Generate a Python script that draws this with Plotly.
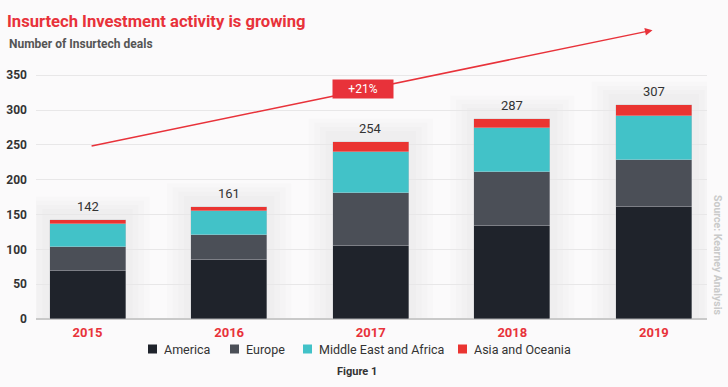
import plotly.graph_objects as go

years = ["2015", "2016", "2017", "2018", "2019"]
america = [69, 85, 105, 133, 161]
europe = [34, 36, 76, 78, 67]
mea = [33, 34, 59, 63, 64]
asia = [6, 6, 14, 13, 15]
totals = [142, 161, 254, 287, 307]
y_ticks = [0, 50, 100, 150, 200, 250, 300, 350]

series_names = ["America", "Europe", "Middle East and Africa", "Asia and Oceania"]
series_values = [america, europe, mea, asia]
series_colors = ["#1F232B", "#4B4F57", "#42C2C8", "#EA3431"]

RED = "#E8323A"
BG = "#FBFAFB"
FONT = "Roboto"

# plot area in pixels
L, R, T, B = 36, 21, 23, 68
W, H = 728, 387
PW, PH = W - L - R, H - T - B


def px_x(px):
    return (px - L) / PW


def px_y(py):
    return (H - B - py) / PH


fig = go.Figure()
for name, vals, col in zip(series_names, series_values, series_colors):
    fig.add_trace(go.Bar(
        x=list(range(len(years))), y=vals, name=name,
        marker=dict(color=col, line=dict(color="rgba(200,200,205,0.5)", width=0.8)),
        width=0.537, hoverinfo="skip", showlegend=False,
    ))

shapes = []
# soft panels / shadows behind each bar
for i, t in enumerate(totals):
    for k, (dx, dy) in enumerate([(0.44, 34), (0.40, 28), (0.36, 22), (0.32, 16)]):
        shapes.append(dict(type="rect", xref="x", yref="y", x0=i - dx, x1=i + dx,
                           y0=-dy, y1=t + dy, layer="below", line=dict(width=0),
                           fillcolor="rgba(0,0,0,0.01)"))

annotations = []
for i, t in enumerate(totals):
    annotations.append(dict(x=i, y=t, text=str(t), showarrow=False, yanchor="bottom",
                            yshift=4, font=dict(family=FONT, size=13, color="#333333")))

# trend arrow
annotations.append(dict(x=3.99, y=414.6, ax=0.018, ay=248, xref="x", yref="y",
                        axref="x", ayref="y", text="", showarrow=True,
                        arrowhead=2, arrowsize=1, arrowwidth=1.5, arrowcolor=RED))
annotations.append(dict(x=1.946, y=330, xref="x", yref="y", text="+21%", showarrow=False,
                        bgcolor=RED, width=58, height=16,
                        font=dict(family=FONT, size=12, color="white")))

annotations.append(dict(x=px_x(7), y=px_y(44), xref="paper", yref="paper", xanchor="left",
                        yanchor="middle", showarrow=False, text="<b>Number of Insurtech deals</b>",
                        font=dict(family=FONT, size=12, color="#555555")))
annotations.append(dict(x=px_x(357), y=px_y(372), xref="paper", yref="paper", xanchor="center",
                        yanchor="middle", showarrow=False, text="<b>Figure 1</b>",
                        font=dict(family=FONT, size=11, color="#333333")))
annotations.append(dict(x=px_x(718), y=px_y(255), xref="paper", yref="paper", xanchor="center",
                        yanchor="middle", showarrow=False, text="<b>Source: Kearney Analysis</b>",
                        textangle=90, font=dict(family=FONT, size=10.5, color="#CACACA")))

# legend (square swatch + label)
legend_marker_px = [148, 230, 303, 458]
legend_y = 349
for name, col, mx in zip(series_names, series_colors, legend_marker_px):
    shapes.append(dict(type="rect", xref="paper", yref="paper",
                       x0=px_x(mx), x1=px_x(mx + 9), y0=px_y(legend_y + 4.5), y1=px_y(legend_y - 4.5),
                       fillcolor=col, line=dict(width=0)))
    annotations.append(dict(x=px_x(mx + 14), y=px_y(legend_y), xref="paper", yref="paper",
                            xanchor="left", yanchor="middle", showarrow=False, text=name,
                            font=dict(family=FONT, size=12.5, color="#333333")))

fig.update_layout(
    width=W, height=H,
    margin=dict(l=L, r=R, t=T, b=B, autoexpand=False),
    paper_bgcolor=BG, plot_bgcolor=BG,
    barmode="stack",
    bargap=0,
    font=dict(family=FONT, color="#333333"),
    title=dict(text="<b>Insurtech Investment activity is growing</b>", x=7 / W, xref="container",
               xanchor="left", y=1 - 21 / H, yanchor="middle",
               font=dict(family=FONT, size=16.6, color=RED)),
    xaxis=dict(range=[-0.364, 4.375], tickvals=list(range(len(years))), ticktext=years,
               tickfont=dict(family=FONT, size=13, color=RED, weight="bold"),
               showgrid=False, zeroline=False, showline=False, ticks="", automargin=False,
               ticklabelstandoff=4),
    yaxis=dict(range=[0, 425], tickvals=y_ticks, showgrid=True, gridcolor="#E8E7E8",
               gridwidth=1, zeroline=True, zerolinecolor="#C9C9C9", zerolinewidth=2,
               tickfont=dict(family=FONT, size=12, color="#333333", weight="bold"),
               ticks="", ticklabelstandoff=8, automargin=False),
    shapes=shapes,
    annotations=annotations,
    showlegend=False,
)

fig.write_html("out.html", config={"displayModeBar": False},
               post_script="document.body.style.margin='0';document.body.style.overflow='hidden';")
